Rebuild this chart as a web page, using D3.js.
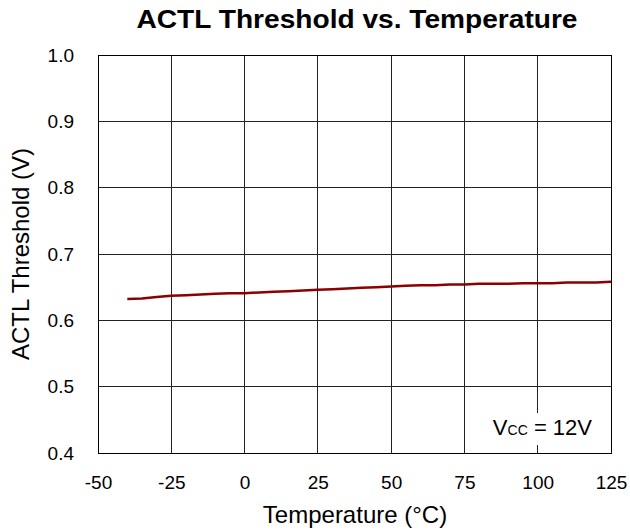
<!DOCTYPE html>
<html>
<head>
<meta charset="utf-8">
<script src="https://cdn.jsdelivr.net/npm/d3@7"></script>
<style>
  body { margin: 0; background: #fff; }
  text { font-family: "Liberation Sans", Arial, sans-serif; }
</style>
</head>
<body>
<div id="chart"></div>
<script>
var temps = [-40, -35, -30, -25, -20, -15, -10, -5, 0, 5, 10, 15, 20, 25, 30, 35, 40, 45, 50,
             55, 60, 65, 70, 75, 80, 85, 90, 95, 100, 105, 110, 115, 120, 125];
var threshold = [0.632, 0.633, 0.635, 0.637, 0.638, 0.639, 0.640, 0.641, 0.641, 0.642, 0.643, 0.644,
                 0.645, 0.646, 0.647, 0.648, 0.649, 0.650, 0.651, 0.652, 0.653, 0.653, 0.654, 0.654,
                 0.655, 0.655, 0.655, 0.656, 0.656, 0.656, 0.657, 0.657, 0.657, 0.658];
var xTicks = [-50, -25, 0, 25, 50, 75, 100, 125];
var yTicks = [0.4, 0.5, 0.6, 0.7, 0.8, 0.9, 1.0];

var W = 630, H = 531;
var margin = {top: 55, right: 19, bottom: 78, left: 98},
    width = W - margin.left - margin.right,
    height = H - margin.top - margin.bottom;

var svg = d3.select("#chart").append("svg")
    .attr("width", W).attr("height", H);

var g = svg.append("g")
    .attr("transform", "translate(" + margin.left + "," + margin.top + ")");

var x = d3.scaleLinear().domain([-50, 125]).range([0, width]);
var y = d3.scaleLinear().domain([0.4, 1.0]).range([height, 0]);

// grid
g.selectAll(".vgrid").data(xTicks).enter().append("line")
    .attr("x1", d => x(d)).attr("x2", d => x(d))
    .attr("y1", 0).attr("y2", height)
    .attr("stroke", "#222").attr("stroke-width", 1)
    .attr("shape-rendering", "crispEdges");
g.selectAll(".hgrid").data(yTicks).enter().append("line")
    .attr("x1", 0).attr("x2", width)
    .attr("y1", d => y(d)).attr("y2", d => y(d))
    .attr("stroke", "#222").attr("stroke-width", 1)
    .attr("shape-rendering", "crispEdges");

g.append("rect")
    .attr("width", width).attr("height", height)
    .attr("fill", "none").attr("stroke", "#000").attr("stroke-width", 1)
    .attr("shape-rendering", "crispEdges");

// axes (labels only), plain hyphen for negatives
var xAxis = g.append("g")
    .attr("transform", "translate(0," + height + ")")
    .call(d3.axisBottom(x).tickValues(xTicks).tickSize(0).tickPadding(23).tickFormat(d => String(d)));
xAxis.select(".domain").remove();
xAxis.selectAll("text").attr("font-size", 19).attr("fill", "#000")
    .style("font-family", "'Liberation Sans', Arial, sans-serif");

var yAxis = g.append("g")
    .call(d3.axisLeft(y).tickValues(yTicks).tickSize(0).tickPadding(24).tickFormat(d => d.toFixed(1)));
yAxis.select(".domain").remove();
yAxis.selectAll("text").attr("font-size", 19).attr("fill", "#000")
    .style("font-family", "'Liberation Sans', Arial, sans-serif");

// Vcc note, white box hides the grid behind it
var nx = x(84.7), ny = y(0.4271);
g.append("rect")
    .attr("x", nx - 5).attr("y", ny - 22).attr("width", 110).attr("height", 32)
    .attr("fill", "#fff");
var nt = g.append("text").attr("x", nx).attr("y", ny).attr("font-size", 22);
nt.append("tspan").text("V");
nt.append("tspan").attr("font-size", 14).text("CC");
nt.append("tspan").text(" = 12V");

// data line
var line = d3.line()
    .x((d, i) => x(temps[i]))
    .y(d => y(d));
g.append("path")
    .datum(threshold)
    .attr("d", line)
    .attr("fill", "none")
    .attr("stroke", "#8b0000")
    .attr("stroke-width", 2.5);

// titles
svg.append("text")
    .attr("x", 357).attr("y", 28)
    .attr("text-anchor", "middle")
    .attr("font-size", 26).attr("font-weight", "bold")
    .attr("textLength", 441).attr("lengthAdjust", "spacingAndGlyphs")
    .text("ACTL Threshold vs. Temperature");

svg.append("text")
    .attr("x", 355).attr("y", 523)
    .attr("text-anchor", "middle")
    .attr("font-size", 24)
    .text("Temperature (°C)");

svg.append("text")
    .attr("transform", "translate(29,254) rotate(-90)")
    .attr("text-anchor", "middle")
    .attr("font-size", 24)
    .text("ACTL Threshold (V)");
</script>
</body>
</html>
